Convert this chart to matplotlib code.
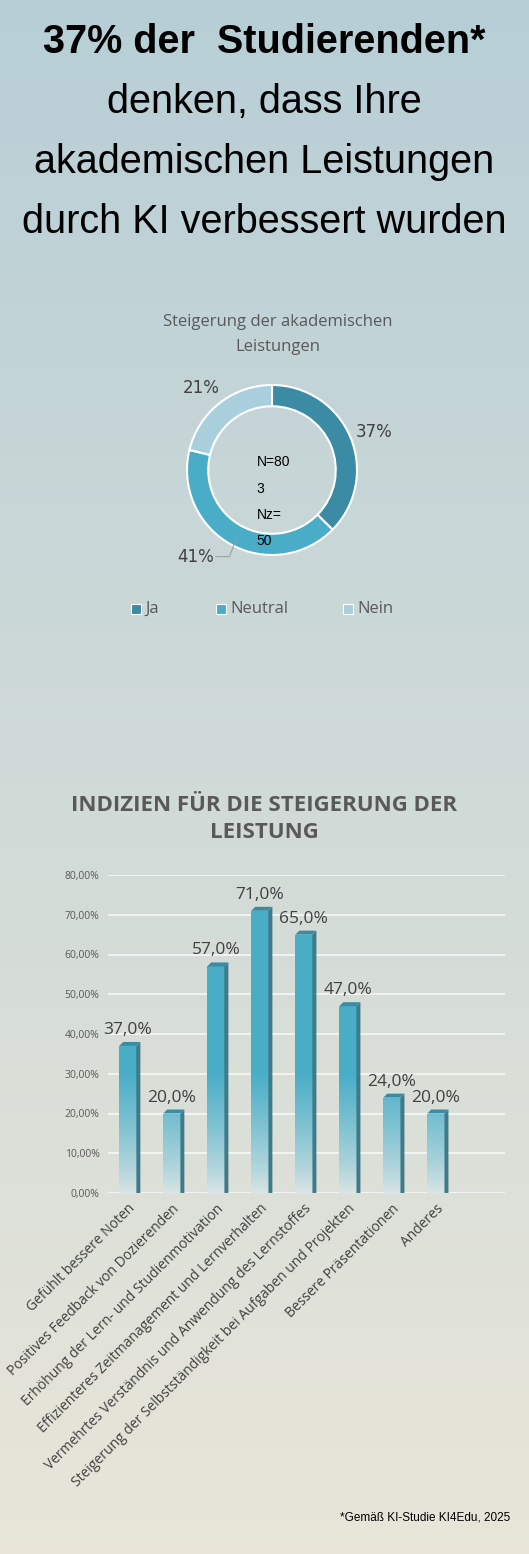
import matplotlib.pyplot as plt
import numpy as np
from matplotlib.patches import Polygon

W, H = 529, 1554

# donut data
pie_labels = ['Ja', 'Neutral', 'Nein']
pie_values = [37, 41, 21]
pie_colors = ['#3a8ba3', '#4aadc7', '#a9cfdd']

# bar data
categories = ['Gefühlt bessere Noten', 'Positives Feedback von Dozierenden',
              'Erhöhung der Lern- und Studienmotivation',
              'Effizienteres Zeitmanagement und Lernverhalten',
              'Vermehrtes Verständnis und Anwendung des Lernstoffes',
              'Steigerung der Selbstständigkeit bei Aufgaben und Projekten',
              'Bessere Präsentationen', 'Anderes']
values = [37.0, 20.0, 57.0, 71.0, 65.0, 47.0, 24.0, 20.0]
yticks = [0, 10, 20, 30, 40, 50, 60, 70, 80]


def px_axes(fig, x0, y0, x1, y1):
    return fig.add_axes([x0 / W, 1 - y1 / H, (x1 - x0) / W, (y1 - y0) / H])


fig = plt.figure(figsize=(W / 100, H / 100), dpi=100)

# background gradient
bg = fig.add_axes([0, 0, 1, 1])
top = np.array([0.72, 0.81, 0.84])
bot = np.array([0.91, 0.90, 0.85])
t = np.linspace(0, 1, 256)[:, None]
grad = top + (bot - top) * t
bg.imshow(grad[:, None, :].repeat(2, axis=1), aspect='auto', extent=[0, 1, 0, 1])
bg.axis('off')

# header
fig.text(0.5, 1 - 42 / H, '37% der  Studierenden*', ha='center', va='center',
         fontsize=28.5, fontweight='bold', family='Liberation Sans')
for i, line in enumerate(['denken, dass Ihre', 'akademischen Leistungen', 'durch KI verbessert wurden']):
    fig.text(0.5, 1 - (102 + 60 * i) / H, line, ha='center', va='center',
             fontsize=28.5, family='Liberation Sans')

# donut
fig.text(278 / W, 1 - 322 / H, 'Steigerung der akademischen', ha='center', va='center',
         fontsize=12, color='#595959', family='Open Sans')
fig.text(278 / W, 1 - 347 / H, 'Leistungen', ha='center', va='center',
         fontsize=12, color='#595959', family='Open Sans')
ax1 = px_axes(fig, 170, 368, 374, 572)
ax1.pie(pie_values, colors=pie_colors, startangle=90, counterclock=False,
        wedgeprops=dict(width=0.25, edgecolor='white', linewidth=1.5))
ax1.set_xlim(-1.2, 1.2)
ax1.set_ylim(-1.2, 1.2)
ax1.set_aspect('equal')
ax1.text(0.98, 0.45, '37%', fontsize=12, color='#404040', ha='left', va='center')
ax1.text(-0.62, 0.96, '21%', fontsize=12, color='#404040', ha='right', va='center')
ax1.text(-0.68, -1.02, '41%', fontsize=12, color='#404040', ha='right', va='center')
ax1.plot([-0.66, -0.5, -0.42], [-1.02, -1.02, -0.8], color='#999999', lw=0.7)
for i, s in enumerate(['N=80', '3', 'Nz=', '50']):
    ax1.text(-0.18, 0.09 - 0.31 * i, s, fontsize=10, ha='left', va='center',
             family='Liberation Sans')

for x, lab, col in zip([131, 216, 343], pie_labels, pie_colors):
    fig.patches.append(plt.Rectangle((x / W, 1 - 614 / H), 10 / W, 10 / H,
                                     transform=fig.transFigure, facecolor=col,
                                     edgecolor='white', lw=0.8))
    fig.text((x + 14) / W, 1 - 609 / H, lab, fontsize=12, color='#595959',
             va='center', family='Open Sans')

# bar chart title
fig.text(0.5, 1 - 805 / H, 'INDIZIEN FÜR DIE STEIGERUNG DER', ha='center', va='center',
         fontsize=16, fontweight='bold', color='#595959', family='Open Sans')
fig.text(0.5, 1 - 833 / H, 'LEISTUNG', ha='center', va='center',
         fontsize=16, fontweight='bold', color='#595959', family='Open Sans')

ax2 = px_axes(fig, 108, 875, 505, 1193)
ax2.set_facecolor('none')
x = np.arange(len(values))
bw = 0.39
bars = ax2.bar(x, values, width=bw, facecolor='none', edgecolor='none', zorder=3)
ax2.set_xlim(-0.45, 8.57)
ax2.set_ylim(0, 80)
for yv in yticks:
    ax2.axhline(yv, color='white', lw=1.2, alpha=0.8, zorder=1)

g = np.linspace(0, 1, 200)
base = np.array([0.29, 0.68, 0.78])
pale = np.array([0.86, 0.90, 0.90])
dx, dy = 0.09, 1.0
for b, v in zip(bars, values):
    x0 = b.get_x()
    x1 = x0 + b.get_width()
    # fade in over the lower part of each bar
    frac = np.clip(g * v / 30, 0, 1)[:, None] ** 0.8
    img = pale + (base - pale) * frac
    im = ax2.imshow(img[:, None, :].repeat(2, axis=1), origin='lower', aspect='auto',
                    extent=[x0, x1, 0, v], zorder=3)
    im.set_clip_path(b)
    side = Polygon([[x1, 0], [x1 + dx, 0], [x1 + dx, v + dy], [x1, v]],
                   facecolor='#2f6f80', edgecolor='none', zorder=3, alpha=0.9)
    topf = Polygon([[x0, v], [x0 + dx, v + dy], [x1 + dx, v + dy], [x1, v]],
                   facecolor='#3a8ba3', edgecolor='none', zorder=3)
    ax2.add_patch(side)
    ax2.add_patch(topf)
    ax2.text(b.get_x() + bw / 2, v + 2, f'{v:.1f}%'.replace('.', ','), ha='center',
             va='bottom', fontsize=12.5, color='#404040', family='Open Sans')

ax2.set_yticks(yticks)
ax2.set_yticklabels([f'{v:.2f}%'.replace('.', ',') for v in yticks],
                    fontsize=7.5, color='#595959', family='Open Sans')
ax2.set_xticks(x)
ax2.set_xticklabels(categories, rotation=45, ha='right', rotation_mode='anchor',
                    fontsize=10, color='#404040', family='Open Sans')
ax2.tick_params(length=0, pad=6)
for s in ax2.spines.values():
    s.set_visible(False)

fig.text(510 / W, 1 - 1518 / H, '*Gemäß KI-Studie KI4Edu, 2025', ha='right', va='center',
         fontsize=8.5, family='Liberation Sans')

fig.savefig('out.png', dpi=100)
